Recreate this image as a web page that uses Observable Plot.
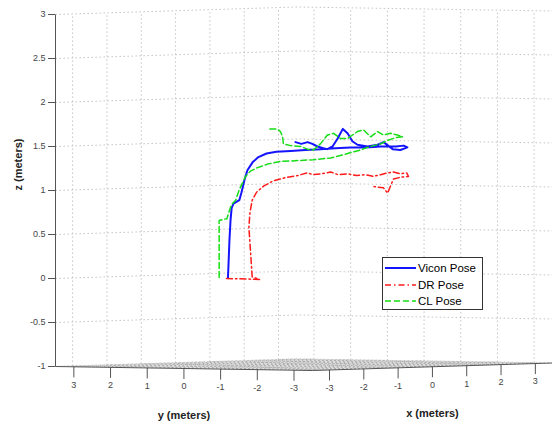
<!DOCTYPE html>
<html>
<head>
<meta charset="utf-8">
<script src="https://cdn.jsdelivr.net/npm/d3@7"></script>
<script src="https://cdn.jsdelivr.net/npm/@observablehq/plot@0.6"></script>
<style>
  body { margin: 0; background: #fff; font-family: Arial, "Liberation Sans", sans-serif; }
  #wrap { position: relative; width: 552px; height: 426px; }
  .legend { position: absolute; left: 382px; top: 257px; width: 101px; height: 53px;
            border: 1px solid #333; background: #fff; box-sizing: border-box; }
  .legend .row { position: absolute; left: 2px; height: 14px; display: flex; align-items: center;
                 font-size: 11.5px; color: #000; }
  .legend svg { display: block; margin-right: 2px; }
</style>
</head>
<body>
<div id="wrap"></div>
<script>
// Axis limits of the 3-D box (meters)
const xLim = [-3.5, 3.5];
const yLim = [-3.5, 3.5];
const zLim = [-1, 3];

// Tick values
const xTicks = [-3, -2, -1, 0, 1, 2, 3];
const yTicks = [3, 2, 1, 0, -1, -2, -3];
const zTicks = [-1, -0.5, 0, 0.5, 1, 1.5, 2, 2.5, 3];

// Trajectories in view coordinates: h = horizontal position along the view (m), z = height (m)
const viconH = [4.70, 4.72, 4.74, 4.77, 4.80, 4.85, 4.93, 5.01, 5.07, 5.15, 5.23, 5.37, 5.53, 5.75, 6.02,
  6.41, 6.81, 7.22, 7.63, 8.04, 8.45, 8.86, 9.27, 9.49, 9.59, 9.40, 9.19, 8.94, 8.78, 8.50, 8.23, 8.09,
  7.96, 7.83, 7.69, 7.55, 7.41, 7.30, 7.14, 7.00, 6.87, 6.70, 6.54];
const viconZ = [0.01, 0.21, 0.43, 0.66, 0.80, 0.85, 0.87, 0.89, 0.98, 1.12, 1.23, 1.32, 1.38, 1.42, 1.44,
  1.45, 1.46, 1.47, 1.48, 1.49, 1.49, 1.50, 1.50, 1.51, 1.49, 1.46, 1.47, 1.55, 1.52, 1.50, 1.52, 1.56,
  1.65, 1.70, 1.59, 1.50, 1.47, 1.48, 1.50, 1.53, 1.55, 1.53, 1.55];

const drH = [4.66, 5.56, 5.36, 5.33, 5.30, 5.27, 5.30, 5.36, 5.48, 5.67, 5.94, 6.30, 6.60, 6.85, 7.03,
  7.25, 7.50, 7.70, 7.96, 8.20, 8.45, 8.66, 8.86, 9.05, 9.21, 9.40, 9.57, 9.62, 9.40, 9.21, 9.05, 8.94,
  8.75, 8.64];
const drZ = [0.00, -0.01, 0.02, 0.21, 0.40, 0.58, 0.75, 0.89, 0.98, 1.05, 1.11, 1.15, 1.17, 1.20, 1.18,
  1.19, 1.21, 1.18, 1.19, 1.17, 1.18, 1.16, 1.18, 1.20, 1.21, 1.19, 1.20, 1.16, 1.15, 1.13, 0.97, 1.03,
  1.04, 1.05];

const clH = [4.46, 4.46, 4.46, 4.67, 4.77, 4.82, 4.91, 5.00, 5.10, 5.18, 5.31, 5.51, 5.78, 6.13, 6.60,
  7.03, 7.50, 7.96, 8.31, 8.50, 8.86, 9.05, 9.27, 9.46, 9.32, 9.13, 8.94, 8.78, 8.59, 8.39, 8.23, 7.96,
  7.77, 7.58, 7.41, 7.22, 7.03, 6.87, 6.68, 6.41, 6.21, 6.19, 6.13, 6.04, 5.81];
const clZ = [0.01, 0.32, 0.66, 0.68, 0.81, 0.85, 0.89, 1.00, 1.09, 1.16, 1.22, 1.26, 1.30, 1.33, 1.34,
  1.35, 1.37, 1.42, 1.46, 1.49, 1.53, 1.57, 1.60, 1.61, 1.63, 1.65, 1.63, 1.67, 1.61, 1.69, 1.67, 1.59,
  1.59, 1.65, 1.63, 1.53, 1.46, 1.47, 1.50, 1.51, 1.53, 1.61, 1.67, 1.70, 1.70];

const seriesNames = ["Vicon Pose", "DR Pose", "CL Pose"];
const seriesColors = ["#1414ff", "#ff1a1a", "#16dd16"];
const seriesDash = [null, "6,3,1.5,3", "6,3"];

// Viewing parameters of the nearly side-on 3-D view
const kx = 0.935;   // horizontal scale of x relative to y
const dzx = 0.0122; // apparent rise per meter of x (depth)
const dzy = 0.0065; // apparent drop per meter of y (depth)

function proj(x, y, z) {
  return {
    h: kx * (x - xLim[0]) + (yLim[1] - y),
    v: z + dzx * (x - xLim[0]) - dzy * (yLim[1] - y)
  };
}
const hMax = proj(xLim[1], yLim[0], 0).h;

// Box corners on the floor
const cL = proj(xLim[0], yLim[1], zLim[0]); // left
const cF = proj(xLim[0], yLim[0], zLim[0]); // front
const cR = proj(xLim[1], yLim[0], zLim[0]); // right
const cB = proj(xLim[1], yLim[1], zLim[0]); // back

const frontV = d3.scaleLinear().domain([cL.h, cF.h, cR.h]).range([cL.v, cF.v, cR.v]);
const backV = d3.scaleLinear().domain([cL.h, cB.h, cR.h]).range([cL.v, cB.v, cR.v]);
const floor = [cL.h, cB.h, cF.h, cR.h].map(h => ({h, lo: frontV(h), hi: backV(h)}));

const seg = (a, b) => ({x1: a.h, y1: a.v, x2: b.h, y2: b.v});

// Floor grid
const floorGrid = [
  ...xTicks.map(x => seg(proj(x, yLim[0], zLim[0]), proj(x, yLim[1], zLim[0]))),
  ...yTicks.map(y => seg(proj(xLim[0], y, zLim[0]), proj(xLim[1], y, zLim[0])))
];
// Back-wall grid
const wallGrid = [
  ...xTicks.map(x => seg(proj(x, yLim[1], zLim[0]), proj(x, yLim[1], zLim[1]))),
  ...yTicks.map(y => seg(proj(xLim[1], y, zLim[0]), proj(xLim[1], y, zLim[1]))),
  ...zTicks.map(z => seg(proj(xLim[0], yLim[1], z), proj(xLim[1], yLim[1], z))),
  ...zTicks.map(z => seg(proj(xLim[1], yLim[1], z), proj(xLim[1], yLim[0], z)))
];
// Box edges drawn as axis lines
const edges = [
  seg(proj(xLim[0], yLim[1], zLim[0]), proj(xLim[0], yLim[0], zLim[0])),
  seg(proj(xLim[0], yLim[0], zLim[0]), proj(xLim[1], yLim[0], zLim[0])),
  seg(proj(xLim[0], yLim[1], zLim[0]), proj(xLim[0], yLim[1], zLim[1]))
];

const tickLen = 0.12;
const bottomTicks = [
  ...yTicks.map(y => ({...proj(xLim[0], y, zLim[0]), label: String(y)})),
  ...xTicks.map(x => ({...proj(x, yLim[0], zLim[0]), label: String(x)}))
];

const toPts = (H, Z) => H.map((h, i) => ({h, z: Z[i]}));
const series = [toPts(viconH, viconZ), toPts(drH, drZ), toPts(clH, clZ)];

const titles = [
  {...proj(xLim[0], 0, zLim[0]), text: "y (meters)"},
  {...proj(0, yLim[0], zLim[0]), text: "x (meters)"}
];

const gridStyle = {stroke: "#c4c4c4", strokeWidth: 1, strokeDasharray: "1.5,2.5"};

const chart = Plot.plot({
  width: 552,
  height: 426,
  marginLeft: 55,
  marginRight: 0,
  marginTop: 14,
  marginBottom: 60,
  x: {domain: [0, hMax], axis: null},
  y: {domain: zLim, axis: null},
  style: {background: "#fff", color: "#333", fontFamily: "Arial, 'Liberation Sans', sans-serif", overflow: "visible"},
  marks: [
    Plot.areaY(floor, {x: "h", y1: "lo", y2: "hi", fill: "#dedede"}),
    Plot.link(floorGrid, {x1: "x1", y1: "y1", x2: "x2", y2: "y2", ...gridStyle, stroke: "#a8a8a8"}),
    Plot.link(wallGrid, {x1: "x1", y1: "y1", x2: "x2", y2: "y2", ...gridStyle}),
    Plot.link(edges, {x1: "x1", y1: "y1", x2: "x2", y2: "y2", stroke: "#555", strokeWidth: 1}),
    Plot.link(bottomTicks, {x1: "h", y1: "v", x2: "h", y2: d => d.v - tickLen, stroke: "#555", strokeWidth: 1}),
    Plot.text(bottomTicks, {x: "h", y: "v", text: "label", dy: 18, fontSize: 9, fill: "#444"}),
    Plot.axisY({ticks: zTicks, tickFormat: d => String(d), tickSize: 7, tickPadding: 3, fontSize: 9, label: null, stroke: "#555", fill: "#444"}),
    Plot.text(["z (meters)"], {frameAnchor: "left", dx: -37, rotate: -90, fontSize: 11, fontWeight: "bold", fill: "#222"}),
    Plot.text(titles, {x: "h", y: "v", text: "text", dy: 47, fontSize: 11, fontWeight: "bold", fill: "#222"}),
    ...series.map((pts, i) => Plot.line(pts, {
      x: "h", y: "z", stroke: seriesColors[i], strokeWidth: i === 0 ? 2 : 1.5,
      strokeDasharray: seriesDash[i], strokeLinejoin: "round"
    }))
  ]
});

const wrap = document.getElementById("wrap");
wrap.appendChild(chart);

// Legend box inside the axes
const legend = document.createElement("div");
legend.className = "legend";
seriesNames.forEach((name, i) => {
  const row = document.createElement("div");
  row.className = "row";
  row.style.top = (3 + i * 16.5) + "px";
  const sw = d3.create("svg").attr("width", 31).attr("height", 10);
  sw.append("line").attr("x1", 0).attr("x2", 31).attr("y1", 5).attr("y2", 5)
    .attr("stroke", seriesColors[i]).attr("stroke-width", i === 0 ? 2 : 1.5)
    .attr("stroke-dasharray", seriesDash[i]);
  row.appendChild(sw.node());
  const label = document.createElement("span");
  label.textContent = name;
  row.appendChild(label);
  legend.appendChild(row);
});
wrap.appendChild(legend);
</script>
</body>
</html>
